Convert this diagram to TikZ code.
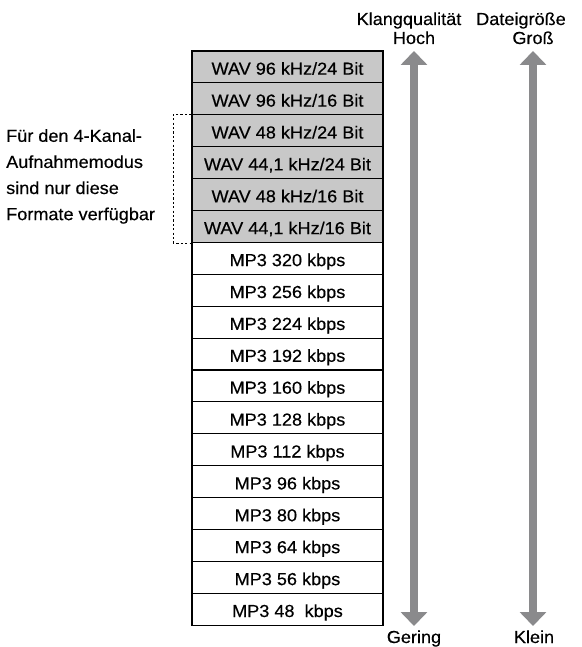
\documentclass[tikz,border=0pt]{standalone}
\usepackage{fontspec}
\setmainfont{Liberation Sans}[FakeStretch=1.04,FakeBold=0.35]
\usetikzlibrary{arrows.meta}
\definecolor{wavgray}{RGB}{200,200,200}
\definecolor{arrgray}{RGB}{138,138,140}
\begin{document}
\begin{tikzpicture}[x=1pt,y=-1pt,
  font=\fontsize{17.4}{20}\selectfont,
  rowbox/.style={draw=black, line width=1.1pt, minimum width=191pt, minimum height=31.9pt,
    inner sep=0pt, text height=15.5pt, text depth=0pt, anchor=center},
  wavrow/.style={rowbox, fill=wavgray},
  mprow/.style={rowbox, fill=white},
  lbl/.style={anchor=base, inner sep=0pt},
  bigarrow/.style={arrgray, line width=7.5pt,
    {Triangle[width=26pt,length=14pt]}-{Triangle[width=26pt,length=14pt]}},
  bracket/.style={black, line width=0.9pt, dash pattern=on 2.2pt off 2.2pt}
]
\useasboundingbox (0,0) rectangle (581,647);
% rows
\node[wavrow] (w1) at (287.5, 66.95) {WAV 96 kHz/24 Bit};
\node[wavrow] (w2) at (287.5, 98.85) {WAV 96 kHz/16 Bit};
\node[wavrow] (w3) at (287.5,130.75) {WAV 48 kHz/24 Bit};
\node[wavrow] (w4) at (287.5,162.65) {WAV 44,1 kHz/24 Bit};
\node[wavrow] (w5) at (287.5,194.55) {WAV 48 kHz/16 Bit};
\node[wavrow] (w6) at (287.5,226.45) {WAV 44,1 kHz/16 Bit};
\node[mprow] (m1) at (287.5,258.35) {MP3 320 kbps};
\node[mprow] (m2) at (287.5,290.25) {MP3 256 kbps};
\node[mprow] (m3) at (287.5,322.15) {MP3 224 kbps};
\node[mprow] (m4) at (287.5,354.05) {MP3 192 kbps};
\node[mprow] (m5) at (287.5,385.95) {MP3 160 kbps};
\node[mprow] (m6) at (287.5,417.85) {MP3 128 kbps};
\node[mprow] (m7) at (287.5,449.75) {MP3 112 kbps};
\node[mprow] (m8) at (287.5,481.65) {MP3 96 kbps};
\node[mprow] (m9) at (287.5,513.55) {MP3 80 kbps};
\node[mprow] (m10) at (287.5,545.45) {MP3 64 kbps};
\node[mprow] (m11) at (287.5,577.35) {MP3 56 kbps};
\node[mprow] (m12) at (287.5,609.25) {MP3 48\ \ kbps};
% bracket and note
\draw[bracket] (w3.north west) -- ++(-18,0) |- (w6.south west);
\node[anchor=north west, inner sep=0pt, align=left,
  font=\fontsize{17.4}{26.1}\selectfont] (note) at (6,129)
  {Für den 4-Kanal-\\Aufnahmemodus\\sind nur diese\\Formate verfügbar};
% labels
\node[lbl] (kq) at (409,25) {Klangqualität};
\node[lbl] (hoch) at (414,44) {Hoch};
\node[lbl] (dg) at (521,25) {Dateigröße};
\node[lbl] (gross) at (533,44) {Groß};
\node[lbl] (gering) at (414,643) {Gering};
\node[lbl] (klein) at (534,643) {Klein};
% arrows
\coordinate (qtop) at (414,51);
\coordinate (qbot) at (414,626);
\coordinate (stop) at (533,51);
\coordinate (sbot) at (533,626);
\draw[bigarrow] (qtop) -- (qbot);
\draw[bigarrow] (stop) -- (sbot);
\end{tikzpicture}
\end{document}
